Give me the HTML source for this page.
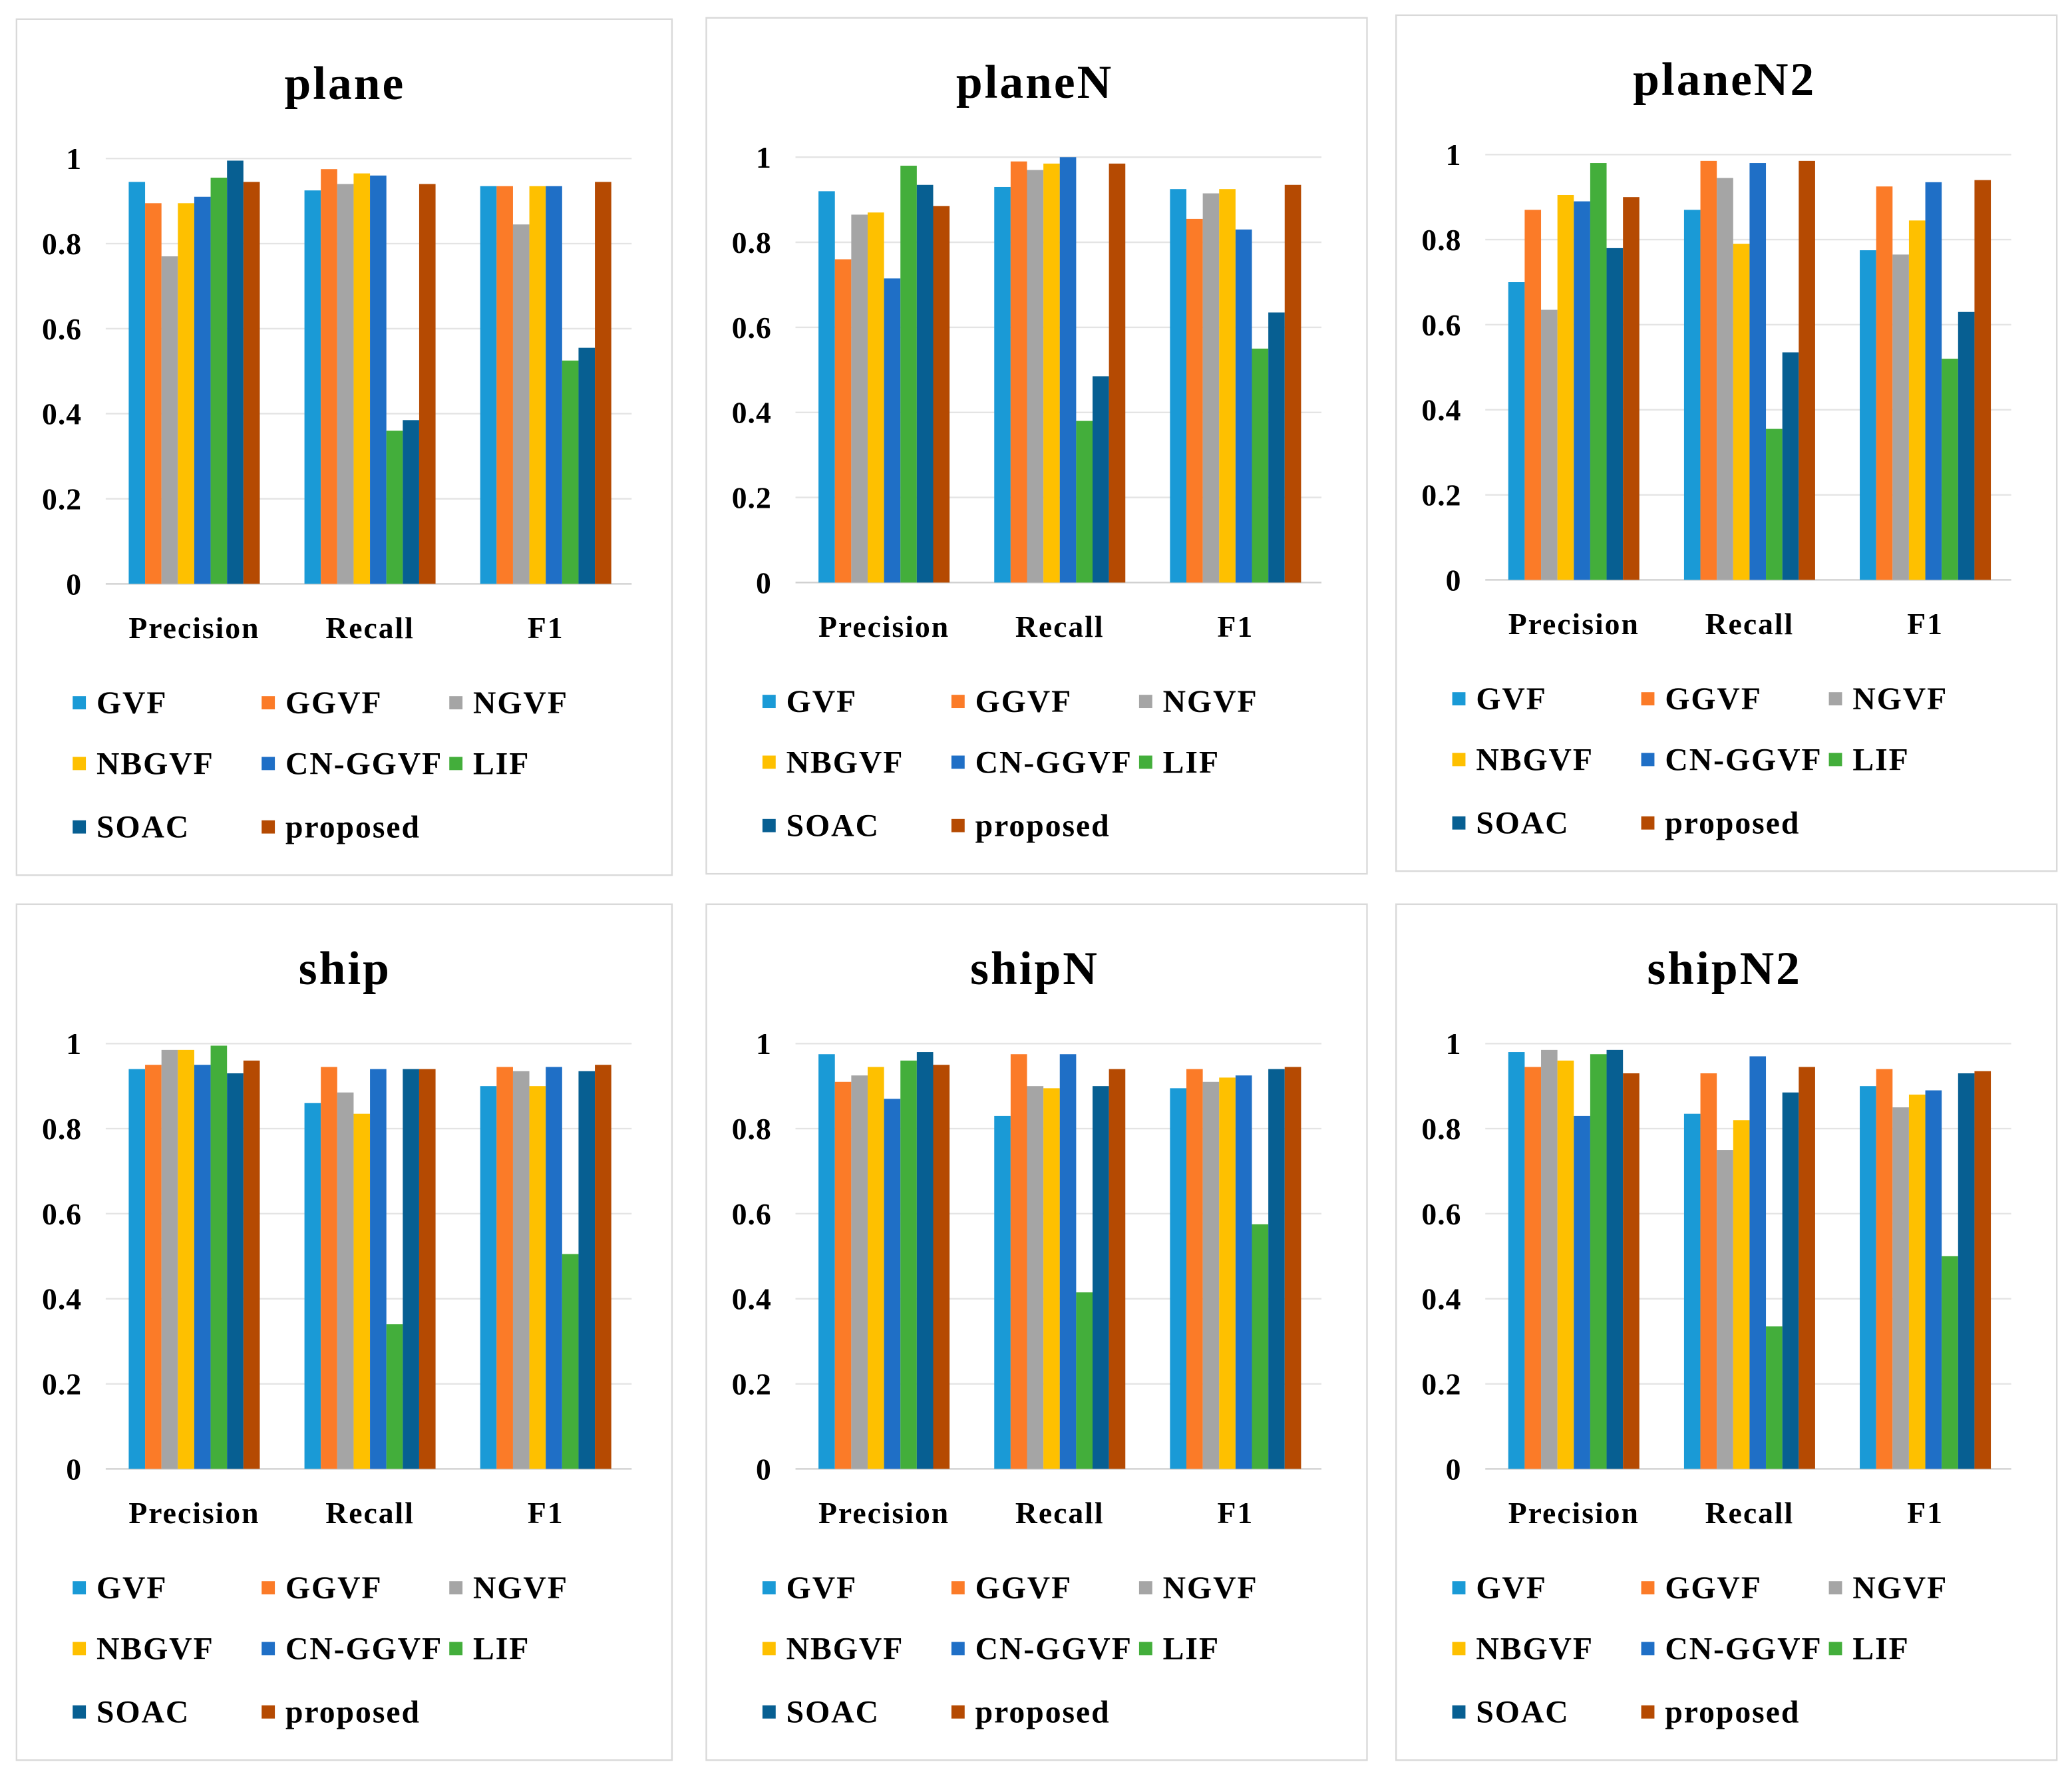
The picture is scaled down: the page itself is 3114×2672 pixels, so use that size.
<!DOCTYPE html>
<html><head><meta charset="utf-8">
<style>
html,body{margin:0;padding:0;background:#fff;}
svg{display:block;}
svg text{font-family:"Liberation Serif","Times New Roman",serif !important;font-weight:bold;fill:#000;}
</style></head>
<body>
<svg id="chart" width="3114" height="2672" viewBox="0 0 1568 1346" preserveAspectRatio="none" xmlns="http://www.w3.org/2000/svg"></svg>
<script>
const categories = ["Precision", "Recall", "F1"];
const seriesNames = ["GVF","GGVF","NGVF","NBGVF","CN-GGVF","LIF","SOAC","proposed"];
const seriesColors = ["#1a9ad6","#fb7b28","#a5a5a5","#fec000","#1f6fc6","#43ae3b","#075f92","#b54a02"];
const tickLabels = ["0","0.2","0.4","0.6","0.8","1"];
const tickValues = [0,0.2,0.4,0.6,0.8,1];
const chartTitles = ["plane","planeN","planeN2","ship","shipN","shipN2"];
// values[series][category]
const planeValues = [[.945,.925,.935],[.895,.975,.935],[.77,.94,.845],[.895,.965,.935],[.91,.96,.935],[.955,.36,.525],[.995,.385,.555],[.945,.94,.945]];
const planeNValues = [[.92,.93,.925],[.76,.99,.855],[.865,.97,.915],[.87,.985,.925],[.715,1.0,.83],[.98,.38,.55],[.935,.485,.635],[.885,.985,.935]];
const planeN2Values = [[.70,.87,.775],[.87,.985,.925],[.635,.945,.765],[.905,.79,.845],[.89,.98,.935],[.98,.355,.52],[.78,.535,.63],[.90,.985,.94]];
const shipValues = [[.94,.86,.90],[.95,.945,.945],[.985,.885,.935],[.985,.835,.90],[.95,.94,.945],[.995,.34,.505],[.93,.94,.935],[.96,.94,.95]];
const shipNValues = [[.975,.83,.895],[.91,.975,.94],[.925,.90,.91],[.945,.895,.92],[.87,.975,.925],[.96,.415,.575],[.98,.90,.94],[.95,.94,.945]];
const shipN2Values = [[.98,.835,.90],[.945,.93,.94],[.985,.75,.85],[.96,.82,.88],[.83,.97,.89],[.975,.335,.50],[.985,.885,.93],[.93,.945,.935]];
const allValues = [planeValues,planeNValues,planeN2Values,shipValues,shipNValues,shipN2Values];

const NS="http://www.w3.org/2000/svg";
const svg=document.getElementById('chart');
const FF='"Liberation Serif","Times New Roman",serif';
function mk(tag,attrs,parent){const e=document.createElementNS(NS,tag);for(const k in attrs)e.setAttribute(k,attrs[k]);parent.appendChild(e);return e;}

const panelOffsets=[[0,0],[522,-1],[1044,-3],[0,670],[522,670],[1044,670]];
chartTitles.forEach((title,pi)=>{
  const [ox,oy]=panelOffsets[pi];
  const g=mk('g',{transform:`translate(${ox},${oy})`},svg);
  
  
  const fr=mk('rect',{x:12.5,y:14.5,width:(pi%3===0?496:500),height:648,fill:'#fff',stroke:'#d9d9d9','stroke-width':1.2},g);
  
  
  const t=mk('text',{x:261,y:75,'text-anchor':'middle','font-size':36,'font-family':FF,'font-weight':'bold','letter-spacing':1.5},g);
  t.textContent=title;
  
  
  const y0=442,y1=120,xl=80,xr=478;
  const yS=v=>y0-(y0-y1)*v;
  tickValues.forEach((v,i)=>{
    const l=mk('line',{x1:xl,x2:xr,y1:yS(v),y2:yS(v),stroke:v===0?'#d0d0d0':'#e4e4e4','stroke-width':1.2},g);
    
    
    const tl=mk('text',{x:62,y:yS(v)+8,'text-anchor':'end','font-size':23,'font-family':FF,'font-weight':'bold','letter-spacing':0.5},g);
    tl.textContent=tickLabels[i];
    
    
  });
  const catW=133,catStart=80.5,barW=12.4;
  const xC=c=>catStart+catW*(c+0.5);
  const vals=allValues[pi];
  categories.forEach((cat,c)=>{
    const gx=xC(c)-barW*seriesNames.length/2;
    seriesNames.forEach((s,si)=>{
      const v=vals[si][c];
      const r=mk('rect',{x:gx+si*barW,y:yS(v),width:barW,height:y0-yS(v),fill:seriesColors[si]},g);
      
      
    });
    const cl=mk('text',{x:xC(c),y:483,'text-anchor':'middle','font-size':23,'font-family':FF,'font-weight':'bold','letter-spacing':1},g);
    cl.textContent=cat;
    
    
  });
  const colX=[55,198,340],rowY=[532,578,626];
  seriesNames.forEach((s,si)=>{
    const cx=colX[si%3],cy=rowY[Math.floor(si/3)];
    const sq=mk('rect',{x:cx,y:cy-5,width:10,height:10,fill:seriesColors[si]},g);
    
    
    const lt=mk('text',{x:cx+18,y:cy+8,'font-size':24,'font-family':FF,'font-weight':'bold','letter-spacing':1},g);
    lt.textContent=s;
    
    
  });
});
</script>
</body></html>
